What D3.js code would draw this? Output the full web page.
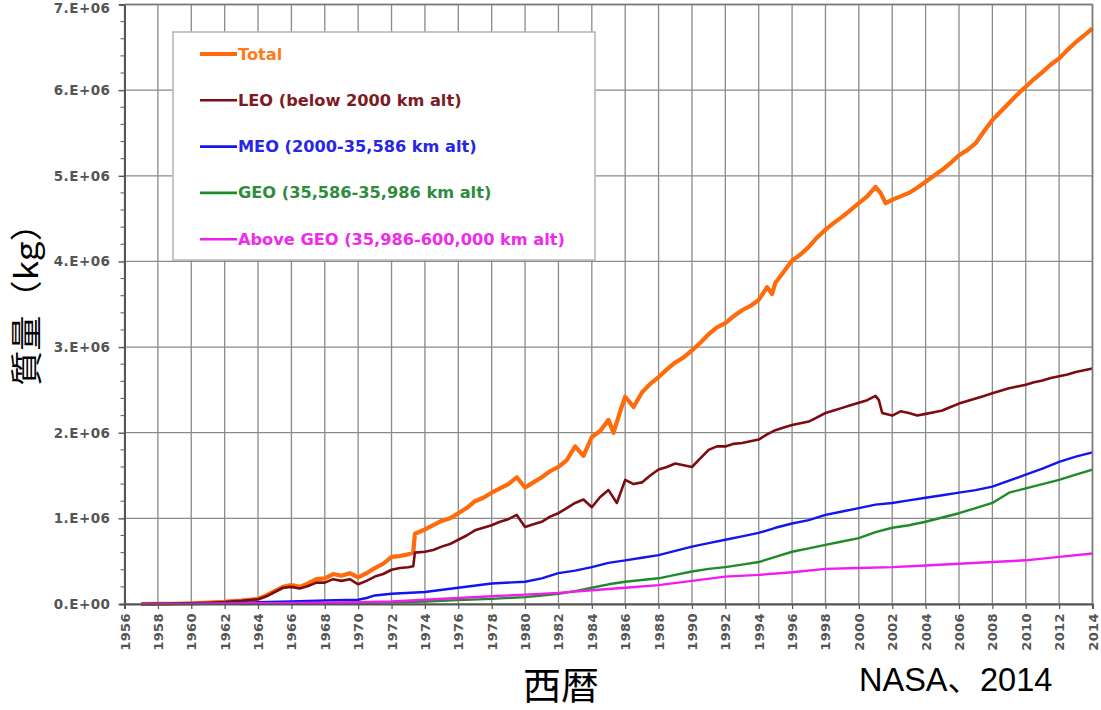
<!DOCTYPE html>
<html>
<head>
<meta charset="utf-8">
<script src="https://cdn.jsdelivr.net/npm/d3@7/dist/d3.min.js"></script>
<style>
  html, body { margin: 0; padding: 0; background: #fff; }
  svg { display: block; }
</style>
</head>
<body>
<svg id="chart" width="1101" height="710"></svg>
<script>
// Mass of orbital objects by region, millions of kg, [year, value]
const totalMass = [
  [1957,0],[1958,0.001],[1959,0.003],[1960,0.008],[1961,0.015],[1962,0.025],[1962.5,0.035],
  [1963,0.04],[1963.5,0.05],[1964,0.06],[1964.5,0.1],[1965,0.15],[1965.5,0.2],[1966,0.22],
  [1966.5,0.2],[1967,0.24],[1967.5,0.29],[1968,0.3],[1968.5,0.35],[1969,0.33],[1969.5,0.36],
  [1970,0.31],[1970.5,0.36],[1971,0.42],[1971.5,0.47],[1972,0.55],[1972.5,0.56],[1973,0.58],
  [1973.3,0.6],[1973.4,0.82],[1974,0.87],[1974.5,0.92],[1975,0.97],[1975.5,1.0],[1976,1.06],
  [1976.5,1.12],[1977,1.2],[1977.5,1.24],[1978,1.3],[1978.5,1.35],[1979,1.4],[1979.5,1.48],
  [1980,1.36],[1980.5,1.42],[1981,1.48],[1981.5,1.55],[1982,1.6],[1982.5,1.68],[1983,1.84],
  [1983.5,1.73],[1984,1.95],[1984.5,2.02],[1985,2.15],[1985.3,2.0],[1985.7,2.25],[1986,2.42],
  [1986.5,2.3],[1987,2.47],[1987.5,2.57],[1988,2.65],[1988.5,2.74],[1989,2.82],[1989.5,2.88],
  [1990,2.96],[1990.5,3.05],[1991,3.15],[1991.5,3.23],[1992,3.28],[1992.5,3.36],[1993,3.43],
  [1993.5,3.48],[1994,3.55],[1994.5,3.7],[1994.8,3.62],[1995,3.75],[1995.5,3.88],[1996,4.01],
  [1996.5,4.08],[1997,4.17],[1997.5,4.28],[1998,4.37],[1998.5,4.45],[1999,4.52],[1999.5,4.6],
  [2000,4.68],[2000.5,4.76],[2001,4.87],[2001.3,4.8],[2001.6,4.68],[2002,4.72],[2002.5,4.76],
  [2003,4.8],[2003.5,4.86],[2004,4.93],[2004.5,5.0],[2005,5.07],[2005.5,5.15],[2006,5.24],
  [2006.5,5.3],[2007,5.38],[2007.5,5.52],[2008,5.65],[2008.5,5.75],[2009,5.85],[2009.5,5.95],
  [2010,6.04],[2010.5,6.13],[2011,6.21],[2011.5,6.3],[2012,6.37],[2012.5,6.47],[2013,6.56],
  [2013.5,6.64],[2014,6.72]
];

const leoMass = [
  [1957,0],[1958,0.001],[1959,0.003],[1960,0.008],[1961,0.015],[1962,0.024],[1962.5,0.033],
  [1963,0.038],[1963.5,0.047],[1964,0.055],[1964.5,0.09],[1965,0.14],[1965.5,0.19],[1966,0.2],
  [1966.5,0.18],[1967,0.21],[1967.5,0.25],[1968,0.25],[1968.5,0.29],[1969,0.27],[1969.5,0.29],
  [1970,0.23],[1970.5,0.27],[1971,0.32],[1971.5,0.35],[1972,0.4],[1972.5,0.42],[1973,0.43],
  [1973.3,0.44],[1973.4,0.6],[1974,0.61],[1974.5,0.63],[1975,0.67],[1975.5,0.7],[1976,0.75],
  [1976.5,0.8],[1977,0.86],[1977.5,0.89],[1978,0.92],[1978.5,0.96],[1979,0.99],[1979.5,1.04],
  [1980,0.9],[1980.5,0.93],[1981,0.96],[1981.5,1.02],[1982,1.06],[1982.5,1.12],[1983,1.18],
  [1983.5,1.22],[1984,1.13],[1984.5,1.25],[1985,1.33],[1985.5,1.18],[1986,1.45],[1986.5,1.4],
  [1987,1.42],[1987.5,1.5],[1988,1.57],[1988.5,1.6],[1989,1.64],[1989.5,1.62],[1990,1.6],
  [1990.5,1.7],[1991,1.8],[1991.5,1.84],[1992,1.84],[1992.5,1.87],[1993,1.88],[1993.5,1.9],
  [1994,1.92],[1994.5,1.98],[1995,2.03],[1995.5,2.06],[1996,2.09],[1996.5,2.11],[1997,2.13],
  [1997.5,2.18],[1998,2.23],[1998.5,2.26],[1999,2.29],[1999.5,2.32],[2000,2.35],[2000.5,2.38],
  [2001,2.43],[2001.2,2.38],[2001.4,2.23],[2002,2.2],[2002.5,2.25],[2003,2.23],[2003.5,2.2],
  [2004,2.22],[2004.5,2.24],[2005,2.26],[2005.5,2.3],[2006,2.34],[2006.5,2.37],[2007,2.4],
  [2007.5,2.43],[2008,2.46],[2008.5,2.49],[2009,2.52],[2009.5,2.54],[2010,2.56],[2010.5,2.59],
  [2011,2.61],[2011.5,2.64],[2012,2.66],[2012.5,2.68],[2013,2.71],[2013.5,2.73],[2014,2.75]
];

const meoMass = [
  [1957,0],[1958,0.001],[1960,0.005],[1962,0.01],[1964,0.02],[1966,0.03],[1968,0.04],
  [1970,0.05],[1970.5,0.07],[1971,0.1],[1972,0.12],[1974,0.14],[1976,0.19],[1978,0.24],
  [1980,0.26],[1981,0.3],[1982,0.36],[1983,0.39],[1984,0.43],[1985,0.48],[1986,0.51],
  [1987,0.54],[1988,0.57],[1989,0.62],[1990,0.67],[1991,0.71],[1992,0.75],[1993,0.79],
  [1994,0.83],[1995,0.89],[1996,0.94],[1997,0.98],[1998,1.04],[1999,1.08],[2000,1.12],
  [2001,1.16],[2002,1.18],[2003,1.21],[2004,1.24],[2005,1.27],[2006,1.3],[2007,1.33],
  [2008,1.37],[2009,1.44],[2010,1.51],[2011,1.58],[2012,1.66],[2013,1.72],[2014,1.77]
];

const geoMass = [
  [1963,0],[1964,0.002],[1966,0.005],[1968,0.008],[1970,0.012],[1972,0.02],[1974,0.03],
  [1976,0.045],[1978,0.06],[1980,0.08],[1981,0.1],[1982,0.12],[1983,0.15],[1984,0.19],
  [1985,0.23],[1986,0.26],[1987,0.28],[1988,0.3],[1989,0.34],[1990,0.38],[1991,0.41],
  [1992,0.43],[1993,0.46],[1994,0.49],[1995,0.55],[1996,0.61],[1997,0.65],[1998,0.69],
  [1999,0.73],[2000,0.77],[2001,0.84],[2002,0.89],[2003,0.92],[2004,0.96],[2005,1.01],
  [2006,1.06],[2007,1.12],[2008,1.18],[2009,1.3],[2010,1.35],[2011,1.4],[2012,1.45],
  [2013,1.51],[2014,1.57]
];

const aboveGeoMass = [
  [1957,0],[1959,0.002],[1962,0.005],[1965,0.01],[1968,0.015],[1970,0.02],[1972,0.03],
  [1974,0.05],[1976,0.07],[1978,0.09],[1980,0.11],[1982,0.13],[1984,0.16],[1986,0.19],
  [1988,0.22],[1990,0.27],[1992,0.32],[1994,0.34],[1996,0.37],[1998,0.41],[2000,0.42],
  [2002,0.43],[2004,0.45],[2006,0.47],[2008,0.49],[2010,0.51],[2012,0.55],[2014,0.59]
];

const seriesNames = [
  "Total",
  "LEO (below 2000 km alt)",
  "MEO (2000-35,586 km alt)",
  "GEO (35,586-35,986 km alt)",
  "Above GEO (35,986-600,000 km alt)"
];
const seriesColors = ["#ff6a0a", "#7d0c12", "#1414f0", "#1f8a2a", "#f21cf0"];
const seriesText   = ["#ff7a1a", "#7d1a22", "#2626e6", "#2e8c3c", "#ee2aec"];
const seriesWidths = [4.2, 2.6, 2.4, 2.4, 2.4];
const seriesData = [totalMass, leoMass, meoMass, geoMass, aboveGeoMass];

const yTickValues = [0, 1, 2, 3, 4, 5, 6, 7];
const yTickLabels = ["0.E+00","1.E+06","2.E+06","3.E+06","4.E+06","5.E+06","6.E+06","7.E+06"];
const xTickYears = d3.range(1956, 2015, 2);

const yAxisTitle = "質量（kg）";
const xAxisTitle = "西暦";
const sourceNote = "NASA、2014";

// Layout
const plot = { left: 124.5, right: 1092.5, top: 4.5, bottom: 604 };
const svg = d3.select("#chart");

const x = d3.scaleLinear().domain([1956, 2014]).range([plot.left, plot.right]);
const y = d3.scaleLinear().domain([0, 7]).range([plot.bottom, plot.top]);

const gridColor = "#8a8a8a";
const tickFont = "DejaVu Sans, Verdana, sans-serif";

// Grid
const grid = svg.append("g");
grid.selectAll("line.v").data(xTickYears).join("line")
  .attr("x1", d => x(d)).attr("x2", d => x(d))
  .attr("y1", plot.top).attr("y2", plot.bottom)
  .attr("stroke", gridColor).attr("stroke-width", 1.3);
grid.selectAll("line.h").data(yTickValues).join("line")
  .attr("x1", plot.left).attr("x2", plot.right)
  .attr("y1", d => y(d)).attr("y2", d => y(d))
  .attr("stroke", gridColor).attr("stroke-width", 1.3);

// Legend box (covers the grid behind it)
const legend = svg.append("g").attr("transform", "translate(173,32)");
legend.append("rect")
  .attr("x", 0).attr("y", 0).attr("width", 422).attr("height", 228)
  .attr("fill", "#fff").attr("stroke", "#b4b4b4").attr("stroke-width", 1.5);
seriesNames.forEach((name, i) => {
  const cy = 22 + i * 46.3;
  legend.append("line")
    .attr("x1", 27).attr("x2", 64).attr("y1", cy).attr("y2", cy)
    .attr("stroke", seriesColors[i]).attr("stroke-width", i === 0 ? 4 : 2.6);
  legend.append("text")
    .attr("x", 65).attr("y", cy + 5.5)
    .attr("font-family", tickFont)
    .attr("font-weight", "bold").attr("font-size", 16.2)
    .attr("fill", seriesText[i])
    .text(name);
});

// Series lines
const line = d3.line().x(d => x(d[0])).y(d => y(d[1]));
svg.append("g").selectAll("path").data(seriesData).join("path")
  .attr("d", d => line(d))
  .attr("fill", "none")
  .attr("stroke", (d, i) => seriesColors[i])
  .attr("stroke-width", (d, i) => seriesWidths[i])
  .attr("stroke-linejoin", "round");

// Axes
const yAxis = d3.axisLeft(y).tickValues(yTickValues)
  .tickFormat((d, i) => yTickLabels[i]).tickSize(5).tickPadding(9);
const gy = svg.append("g").attr("transform", `translate(${plot.left},0)`).call(yAxis);
gy.select(".domain").attr("stroke", "#555").attr("stroke-width", 2);
gy.selectAll(".tick line").attr("stroke", "#555").attr("stroke-width", 1.4).attr("x2", -6);
gy.selectAll("text")
  .attr("font-family", tickFont).attr("font-weight", "bold")
  .attr("font-size", 13.5).attr("letter-spacing", 0.5).attr("fill", "#555")
  // keep the topmost label inside the canvas
  .attr("dy", d => d === 7 ? "0.62em" : "0.32em");

// Minor ticks on the value axis
svg.append("g").selectAll("line")
  .data(d3.range(0, 7.01, 0.2).filter(v => Math.abs(v - Math.round(v)) > 1e-6))
  .join("line")
  .attr("x1", plot.left - 4).attr("x2", plot.left)
  .attr("y1", d => y(d)).attr("y2", d => y(d))
  .attr("stroke", "#666").attr("stroke-width", 1.1);

const xAxis = d3.axisBottom(x).tickValues(xTickYears).tickFormat(d3.format("d")).tickSize(5);
const gx = svg.append("g").attr("transform", `translate(0,${plot.bottom})`).call(xAxis);
gx.select(".domain").attr("stroke", "#555").attr("stroke-width", 2);
gx.selectAll(".tick line").attr("stroke", "#555").attr("stroke-width", 1.2);
gx.selectAll("text")
  .attr("font-family", tickFont).attr("font-weight", "bold")
  .attr("font-size", 13).attr("letter-spacing", 0.4).attr("fill", "#555")
  .attr("text-anchor", "end")
  .attr("dy", null).attr("y", 0)
  .attr("transform", "translate(4.5,9) rotate(-90)");

// Right and top frame edges
svg.append("line").attr("x1", plot.right).attr("x2", plot.right)
  .attr("y1", plot.top).attr("y2", plot.bottom).attr("stroke", "#7a7a7a").attr("stroke-width", 1.6);
svg.append("line").attr("x1", plot.left).attr("x2", plot.right)
  .attr("y1", plot.top).attr("y2", plot.top).attr("stroke", "#7a7a7a").attr("stroke-width", 1.6);

// Titles
svg.append("text")
  .attr("transform", "translate(38,296) rotate(-90) scale(1.1,1)")
  .attr("text-anchor", "middle")
  .attr("font-family", "Noto Sans CJK JP, sans-serif")
  .attr("font-size", 32).attr("fill", "#000")
  .text(yAxisTitle);

svg.append("text")
  .attr("x", 561).attr("y", 699)
  .attr("text-anchor", "middle")
  .attr("font-family", "Noto Sans CJK JP, sans-serif")
  .attr("font-size", 38).attr("fill", "#000")
  .text(xAxisTitle);

svg.append("text")
  .attr("x", 859).attr("y", 691)
  .attr("font-family", "Liberation Sans, Arial, Noto Sans CJK JP, sans-serif")
  .attr("font-size", 32.5).attr("fill", "#000")
  .text(sourceNote);
</script>
</body>
</html>
